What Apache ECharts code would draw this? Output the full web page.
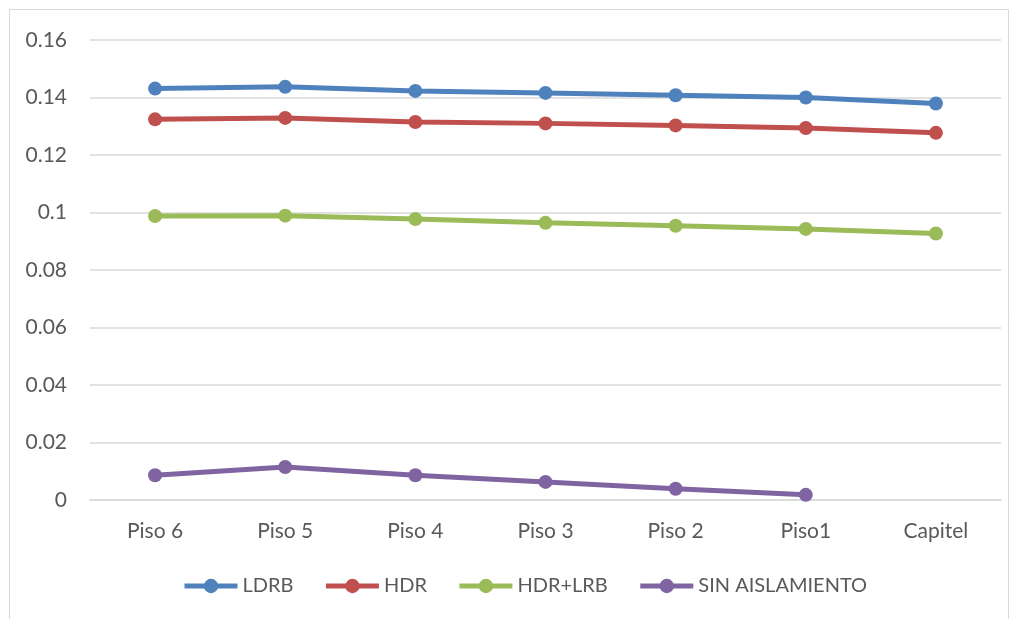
<!DOCTYPE html>
<html>
<head>
<meta charset="utf-8">
<script src="https://cdn.jsdelivr.net/npm/echarts@6/dist/echarts.min.js"></script>
<style>
  html, body { margin: 0; padding: 0; background: #ffffff; }
  #chart { width: 1019px; height: 619px; }
</style>
</head>
<body>
<div id="chart"></div>
<script>
// Floor labels along the category axis
const categories = ['Piso 6', 'Piso 5', 'Piso 4', 'Piso 3', 'Piso 2', 'Piso1', 'Capitel'];

// Series values per floor
const ldrb = [0.1431, 0.1437, 0.1423, 0.1416, 0.1408, 0.1400, 0.1379];
const hdr = [0.1324, 0.1329, 0.1315, 0.1310, 0.1303, 0.1294, 0.1277];
const hdrLrb = [0.0988, 0.0989, 0.0977, 0.0964, 0.0954, 0.0943, 0.0927];
const sinAislamiento = [0.0086, 0.0115, 0.0086, 0.0063, 0.0039, 0.0018, null];

const seriesNames = ['LDRB', 'HDR', 'HDR+LRB', 'SIN AISLAMIENTO'];
const seriesColors = ['#4F81BD', '#C0504D', '#9BBB59', '#8064A2'];
const seriesData = [ldrb, hdr, hdrLrb, sinAislamiento];

const FONT = 'Lato, "Open Sans", sans-serif';
const TEXT_COLOR = '#595959';

const chart = echarts.init(document.getElementById('chart'), null, { renderer: 'canvas' });

chart.setOption({
  backgroundColor: '#ffffff',
  animation: false,
  graphic: [{
    type: 'rect',
    shape: { x: 9.5, y: 9.5, width: 999, height: 640 },
    style: { fill: 'none', stroke: '#d9d9d9', lineWidth: 1 },
    silent: true
  }],
  grid: { left: 90, right: 18, top: 40, bottom: 119 },
  legend: {
    left: 182,
    top: 576,
    padding: 0,
    itemWidth: 53,
    itemHeight: 18,
    itemGap: 30,
    lineStyle: { width: 5 },
    textStyle: { fontFamily: FONT, fontSize: 20, color: TEXT_COLOR },
    data: seriesNames
  },
  xAxis: {
    type: 'category',
    data: categories,
    boundaryGap: true,
    axisLine: { show: true, lineStyle: { color: '#d9d9d9', width: 1.5 } },
    axisTick: { show: false },
    axisLabel: { fontFamily: FONT, fontSize: 21, color: TEXT_COLOR, margin: 21 }
  },
  yAxis: {
    type: 'value',
    min: 0,
    max: 0.16,
    interval: 0.02,
    axisLine: { show: false },
    axisTick: { show: false },
    splitLine: { lineStyle: { color: '#d9d9d9', width: 1.5 } },
    axisLabel: {
      fontFamily: FONT, fontSize: 21, color: TEXT_COLOR, margin: 23,
      formatter: v => String(+v.toFixed(2))
    }
  },
  series: seriesNames.map((name, i) => ({
    name,
    type: 'line',
    data: seriesData[i],
    color: seriesColors[i],
    symbol: 'circle',
    symbolSize: 14,
    showSymbol: true,
    connectNulls: false,
    lineStyle: { width: 5, color: seriesColors[i] },
    itemStyle: { color: seriesColors[i] }
  }))
});
</script>
</body>
</html>
